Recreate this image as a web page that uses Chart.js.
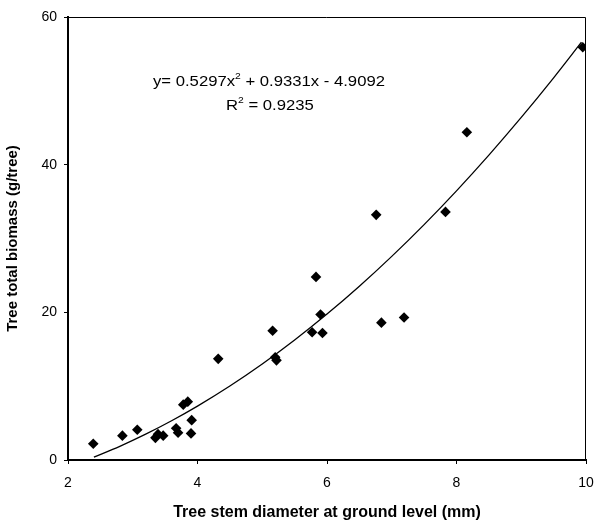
<!DOCTYPE html>
<html>
<head>
  <title>Tree biomass</title>
  <script src="https://cdn.jsdelivr.net/npm/chart.js"></script>
  <style>
    body { margin: 0; background: #fff; }
  </style>
</head>
<body>
  <canvas id="chart" width="594" height="526"></canvas>
  <script>
    // stem diameter (mm) and total biomass (g/tree) per tree
    const diameter = [2.39, 2.84, 3.07, 3.35, 3.39, 3.47, 3.67, 3.70, 3.78, 3.85, 3.91, 3.90,
                      4.32, 5.16, 5.20, 5.22, 5.77, 5.93, 5.90, 5.83, 6.84, 7.19, 6.76, 7.83, 8.16, 9.95];
    const biomass  = [2.2, 3.3, 4.1, 3.0, 3.5, 3.3, 4.3, 3.7, 7.5, 7.9, 5.4, 3.6,
                      13.7, 17.5, 13.9, 13.5, 17.3, 17.2, 19.7, 24.8, 18.6, 19.3, 33.2, 33.6, 44.4, 55.9];

    // polynomial fit: y = a x^2 + b x + c
    const fitCoef = [0.5297, 0.9331, -4.9092];
    const fitX = [2.4, 2.8, 3.2, 3.6, 4.0, 4.5, 5.0, 5.5, 6.0, 6.5, 7.0, 7.5, 8.0, 8.5, 9.0, 9.5, 9.93];
    const fitLabel = ['y= 0.5297x', '2', ' + 0.9331x - 4.9092'];
    const r2Label = ['R', '2', ' = 0.9235'];

    const xTicks = [2, 4, 6, 8, 10];
    const yTicks = [0, 20, 40, 60];

    const points = diameter.map((d, i) => ({ x: d, y: biomass[i] }));
    const fitLine = fitX.map(x => ({ x, y: fitCoef[0] * x * x + fitCoef[1] * x + fitCoef[2] }));

    const font = 'Liberation Sans, Arial, Helvetica, sans-serif';

    // top/right frame and the equation text
    const extras = {
      id: 'extras',
      afterDraw(chart) {
        const { ctx, chartArea: a } = chart;
        ctx.save();
        ctx.strokeStyle = '#000';
        ctx.lineWidth = 1;
        ctx.beginPath();
        ctx.moveTo(a.left, a.top + 0.5);
        ctx.lineTo(a.right - 0.5, a.top + 0.5);
        ctx.lineTo(a.right - 0.5, a.bottom);
        ctx.stroke();

        // text is a little wide, so stretch it horizontally
        const sx = 1.15;
        const drawSup = (parts, x, y) => {
          ctx.save();
          ctx.translate(x, y);
          ctx.scale(sx, 1);
          let cx = 0;
          ctx.textBaseline = 'alphabetic';
          ctx.font = '14.5px ' + font;
          ctx.fillText(parts[0], cx, 0);
          cx += ctx.measureText(parts[0]).width;
          ctx.font = '9px ' + font;
          ctx.fillText(parts[1], cx, -7);
          cx += ctx.measureText(parts[1]).width;
          ctx.font = '14.5px ' + font;
          ctx.fillText(parts[2], cx, 0);
          ctx.restore();
        };
        ctx.fillStyle = '#000';
        drawSup(fitLabel, 153, 86);
        drawSup(r2Label, 226, 110);
        ctx.restore();
      }
    };

    new Chart(document.getElementById('chart'), {
      type: 'scatter',
      data: {
        datasets: [{
          data: points,
          pointStyle: 'rectRot',
          pointRadius: 5.3,
          backgroundColor: '#000',
          borderColor: '#000',
          borderWidth: 0
        }, {
          type: 'line',
          data: fitLine,
          borderColor: '#000',
          borderWidth: 1.3,
          pointRadius: 0,
          cubicInterpolationMode: 'monotone',
          fill: false
        }]
      },
      options: {
        responsive: false,
        animation: false,
        layout: { padding: { top: 17, right: 8 } },
        plugins: { legend: { display: false }, tooltip: { enabled: false } },
        scales: {
          x: {
            type: 'linear',
            min: 2, max: 10,
            afterBuildTicks: s => { s.ticks = xTicks.map(v => ({ value: v })); },
            afterFit: s => { s.height = 66; s.paddingRight = 0; },
            border: { color: '#000', width: 2 },
            grid: { drawOnChartArea: false, color: '#000', tickLength: 4 },
            ticks: { color: '#000', padding: 11, font: { family: font, size: 14 } },
            title: {
              display: true,
              text: 'Tree stem diameter at ground level (mm)',
              color: '#000',
              padding: { top: 6 },
              font: { family: font, size: 16, weight: 'bold' }
            }
          },
          y: {
            min: 0, max: 60,
            afterBuildTicks: s => { s.ticks = yTicks.map(v => ({ value: v })); },
            afterFit: s => { s.width = 68; },
            border: { color: '#000', width: 2 },
            grid: { drawOnChartArea: false, color: '#000', tickLength: 4 },
            ticks: { color: '#000', padding: 7, font: { family: font, size: 14 } },
            title: {
              display: true,
              text: 'Tree total biomass (g/tree)',
              color: '#000',
              padding: { bottom: 4 },
              font: { family: font, size: 15, weight: 'bold' }
            }
          }
        }
      },
      plugins: [extras]
    });
  </script>
</body>
</html>
